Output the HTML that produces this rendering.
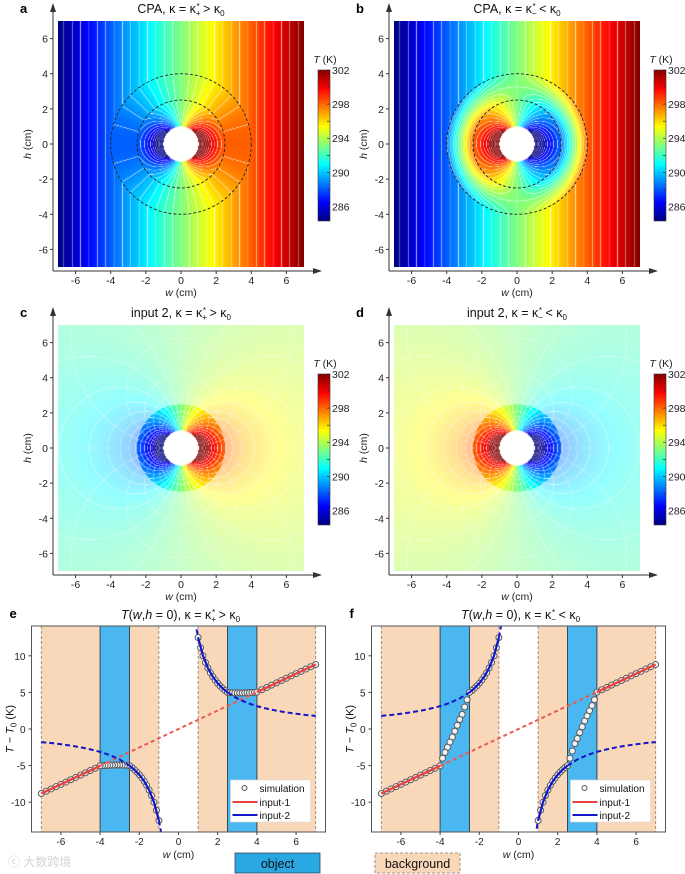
<!DOCTYPE html>
<html><head><meta charset="utf-8">
<style>
body{margin:0;width:685px;height:874px;background:#fff;position:relative;overflow:hidden;font-family:"Liberation Sans",Arial,sans-serif}
canvas{position:absolute}
#s{position:absolute;left:0;top:0}
</style></head>
<body>
<canvas id="cv-a" width="246" height="246" style="left:58px;top:21px"></canvas>
<canvas id="cv-b" width="246" height="246" style="left:394px;top:21px"></canvas>
<canvas id="cv-c" width="246" height="246" style="left:58px;top:325px"></canvas>
<canvas id="cv-d" width="246" height="246" style="left:394px;top:325px"></canvas>
<svg id="s" width="685" height="874" viewBox="0 0 685 874">
  <defs>
    <linearGradient id="jet" x1="0" y1="1" x2="0" y2="0">
      <stop offset="0" stop-color="#00007f"/><stop offset="0.125" stop-color="#0000ff"/>
      <stop offset="0.375" stop-color="#00ffff"/><stop offset="0.625" stop-color="#ffff00"/>
      <stop offset="0.875" stop-color="#ff0000"/><stop offset="1" stop-color="#7f0000"/>
    </linearGradient>
  </defs>
</svg>
<script>
// ---------- data ----------
const axisTicks = [-6, -4, -2, 0, 2, 4, 6];
const colorbarTicks = [302, 298, 294, 290, 286];
const T0 = 293.15;
const Tspan = 8.85;
const gradK = 1.26;        // K/cm background gradient
const dipoleA = 12.5;      // dipole strength (K*cm)
const shellT = 5.0;        // plateau temperature offset
const holeR = 1, shellInner = 2.5, shellOuter = 4;
const simW = [1,1.125,1.25,1.375,1.5,1.625,1.75,1.875,2,2.125,2.25,2.375,2.5,2.625,2.75,2.875,3,3.125,3.25,3.375,3.5,3.625,3.75,3.875,4,4.25,4.5,4.75,5,5.25,5.5,5.75,6,6.25,6.5,6.75,7];
const simE = [12.5,11.1,10.0,9.09,8.33,7.69,7.14,6.67,6.25,5.88,5.56,5.26,5.0,4.96,4.95,4.93,4.92,4.92,4.92,4.93,4.95,4.97,4.98,5.0,5.04,5.36,5.67,5.99,6.3,6.62,6.93,7.25,7.56,7.88,8.19,8.51,8.82];
const simF = [-12.5,-11.1,-10.0,-9.09,-8.33,-7.69,-7.14,-6.67,-6.25,-5.88,-5.56,-5.26,-5.0,-4.0,-3.0,-2.0,-1.3,-0.5,0.3,1.1,1.8,2.5,3.2,4.0,5.04,5.36,5.67,5.99,6.3,6.62,6.93,7.25,7.56,7.88,8.19,8.51,8.82];
const input1W = [0, 4, 7];
const input1T = [0, 5.04, 8.82];
const input2W = [0.85,1,1.25,1.5,1.75,2,2.25,2.5,3,3.5,4,4.5,5,5.5,6,6.5,7];
const input2T = [14.7,12.5,10,8.33,7.14,6.25,5.56,5,4.17,3.57,3.125,2.78,2.5,2.27,2.08,1.92,1.79];
const lineTicksX = [-6, -4, -2, 0, 2, 4, 6];
const lineTicksY = [-10, -5, 0, 5, 10];
const regionsBg = [[-7,-4],[-2.5,-1],[1,2.5],[4,7]];
const regionsObj = [[-4,-2.5],[2.5,4]];

// ---------- helpers ----------
const NS = 'http://www.w3.org/2000/svg';
const svg = document.getElementById('s');
function el(parent, tag, attrs, text) {
  const e = document.createElementNS(NS, tag);
  for (const k in attrs) e.setAttribute(k, attrs[k]);
  if (text !== undefined) e.textContent = text;
  parent.appendChild(e);
  return e;
}
function jet(t) {
  t = Math.max(0, Math.min(1, t));
  const c = v => Math.max(0, Math.min(1, v));
  return [c(1.5 - Math.abs(4*t - 3)), c(1.5 - Math.abs(4*t - 2)), c(1.5 - Math.abs(4*t - 1))];
}

// ---------- field models ----------
function field(p, w, h) {
  const r = Math.hypot(w, h);
  if (r < holeR) return null;
  const c = w / r;
  if (p === 'a') {
    if (r >= shellOuter) return gradK * w;
    if (r >= shellInner) return shellT * c;
    return dipoleA * c / r;
  }
  if (p === 'b') {
    if (r >= shellOuter) return gradK * w;
    if (r >= shellInner) return c * (-shellT + 2 * shellT * (r - shellInner) / (shellOuter - shellInner));
    return -dipoleA * c / r;
  }
  if (p === 'c') return dipoleA * c / r;
  return -dipoleA * c / r;
}

function renderMap(p) {
  const cv = document.getElementById('cv-' + p);
  const N = 246, S = 123 / 7;
  const ctx = cv.getContext('2d');
  const img = ctx.createImageData(N, N);
  const T = new Float64Array(N * N), P = new Float64Array(N * N), ok = new Uint8Array(N * N);
  for (let j = 0; j < N; j++) for (let i = 0; i < N; i++) {
    const w = (i + 0.5 - 123) / S, h = (123 - j - 0.5) / S;
    const v = field(p, w, h);
    const k = j * N + i;
    if (v === null) continue;
    ok[k] = 1; T[k] = v;
    const r2 = w * w + h * h;
    P[k] = dipoleA * h / r2;
  }
  const step = 0.6, pstep = 1.0;
  function lineAlpha(arr, k, i, j, st) {
    const il = i > 0 && ok[k-1] ? k-1 : k, ir = i < N-1 && ok[k+1] ? k+1 : k;
    const ju = j > 0 && ok[k-N] ? k-N : k, jd = j < N-1 && ok[k+N] ? k+N : k;
    const gx = (arr[ir] - arr[il]) / Math.max(1, (ir - il)), gy = (arr[jd] - arr[ju]) / Math.max(1, (jd - ju) / N);
    const g = Math.hypot(gx, gy) / st + 1e-9;
    const f = arr[k] / st;
    const d = Math.abs(f - Math.round(f)) / g;
    if (d >= 0.6) return 0;
    return (1 - d / 0.6) * Math.min(1, 0.45 / g);
  }
  for (let j = 0; j < N; j++) for (let i = 0; i < N; i++) {
    const k = j * N + i;
    const o = k * 4;
    if (!ok[k]) { img.data[o+3] = 0; continue; }
    const w = (i + 0.5 - 123) / S, h = (123 - j - 0.5) / S;
    const r = Math.hypot(w, h);
    let col = jet((T[k] + Tspan) / (2 * Tspan));
    const outer = (p === 'c' || p === 'd') && r > shellInner;
    if (outer) col = col.map(v => v * 0.42 + 0.58);
    let a = lineAlpha(T, k, i, j, step) * (outer ? 0.6 : 0.85);
    if (p === 'c' || p === 'd') a = Math.max(a, lineAlpha(P, k, i, j, pstep) * 0.5);
    col = col.map(v => v * (1 - a) + a);
    img.data[o] = col[0] * 255; img.data[o+1] = col[1] * 255; img.data[o+2] = col[2] * 255; img.data[o+3] = 255;
  }
  ctx.putImageData(img, 0, 0);
}
['a','b','c','d'].forEach(renderMap);

// ---------- title helper ----------
function kappaTitle(g, x, y, prefix, sub, rel, italicT) {
  const t = el(g, 'text', {x: x, y: y, 'text-anchor': 'middle', 'font-size': 12.5, fill: '#111'});
  if (italicT) {
    el(t, 'tspan', {'font-style': 'italic'}, 'T');
    el(t, 'tspan', {}, '(');
    el(t, 'tspan', {'font-style': 'italic'}, 'w');
    el(t, 'tspan', {}, ',');
    el(t, 'tspan', {'font-style': 'italic'}, 'h');
    el(t, 'tspan', {}, ' = 0), κ = κ');
  } else {
    el(t, 'tspan', {}, prefix + ', κ = κ');
  }
  el(t, 'tspan', {'font-size': 8, dy: 3}, sub);
  el(t, 'tspan', {'font-size': 8, dy: -7, dx: -4}, '*');
  el(t, 'tspan', {dy: 4}, ' ' + rel + ' κ');
  el(t, 'tspan', {'font-size': 8, dy: 3}, '0');
  return t;
}

// ---------- map panels ----------
function drawMap(p, cx, cy, prefix, sub, rel, circles) {
  const S = 123 / 7;
  const g = el(svg, 'g', {});
  
  
  const L = cx - 128, B = cy + 127;
  const ya = el(g, 'line', {x1: L, y1: B, x2: L, y2: cy - 134, stroke: '#333', 'stroke-width': 1});
  
  
  const yarr = el(g, 'polygon', {points: `${L-3},${cy-132} ${L+3},${cy-132} ${L},${cy-141}`, fill: '#333'});
  
  
  const xa = el(g, 'line', {x1: L, y1: B, x2: cx + 134, y2: B, stroke: '#333', 'stroke-width': 1});
  
  
  const xarr = el(g, 'polygon', {points: `${cx+132},${B-3} ${cx+132},${B+3} ${cx+141},${B}`, fill: '#333'});
  
  
  axisTicks.forEach(t => {
    const x = cx + t * S;
    const tk = el(g, 'line', {x1: x, y1: B, x2: x, y2: B + 3, stroke: '#333'});
    
    
    const tl = el(g, 'text', {x: x, y: B + 13, 'text-anchor': 'middle', 'font-size': 10.5, fill: '#222'}, String(t));
    
    
    const y = cy - t * S;
    const tk2 = el(g, 'line', {x1: L - 3, y1: y, x2: L, y2: y, stroke: '#333'});
    
    
    const tl2 = el(g, 'text', {x: L - 5, y: y + 4, 'text-anchor': 'end', 'font-size': 10.5, fill: '#222'}, String(t));
    
    
  });
  const xt = el(g, 'text', {x: cx, y: B + 25, 'text-anchor': 'middle', 'font-size': 10.5, fill: '#222'});
  el(xt, 'tspan', {'font-style': 'italic'}, 'w');
  el(xt, 'tspan', {}, ' (cm)');
  
  
  const yt = el(g, 'text', {x: 0, y: 0, 'text-anchor': 'middle', 'font-size': 10.5, fill: '#222', transform: `translate(${cx-150},${cy}) rotate(-90)`});
  el(yt, 'tspan', {'font-style': 'italic'}, 'h');
  el(yt, 'tspan', {}, ' (cm)');
  
  
  const lt = el(g, 'text', {x: cx - 161, y: cy - 131, 'font-size': 13, 'font-weight': 'bold', fill: '#000'}, p);
  
  
  const tt = kappaTitle(g, cx, cy - 131, prefix, sub, rel, false);
  
  
  if (circles) {
    [shellInner, shellOuter].forEach(rr => {
      const c = el(g, 'circle', {cx: cx, cy: cy, r: rr * S, fill: 'none', stroke: '#222', 'stroke-width': 0.9, 'stroke-dasharray': '3,2'});
      
      
    });
  }
  // colorbar
  const cbX = cx + 137, cbTop = cy - 74, cbH = 151, Tmax = T0 + Tspan, Tmin = T0 - Tspan;
  const cb = el(g, 'rect', {x: cbX, y: cbTop, width: 12, height: cbH, fill: 'url(#jet)', stroke: '#333', 'stroke-width': 0.6});
  
  
  for (let T = 286; T <= 302; T += 2) {
    const y = cbTop + (Tmax - T) / (Tmax - Tmin) * cbH;
    const m = el(g, 'line', {x1: cbX + 9, y1: y, x2: cbX + 12, y2: y, stroke: '#222', 'stroke-width': 0.6});
    
    
  }
  colorbarTicks.forEach(T => {
    const y = cbTop + (Tmax - T) / (Tmax - Tmin) * cbH;
    const tl = el(g, 'text', {x: cbX + 14, y: y + 4, 'font-size': 10.5, fill: '#222'}, String(T));
    
    
  });
  const ct = el(g, 'text', {x: cbX + 7, y: cbTop - 7, 'font-size': 10.5, fill: '#222', 'text-anchor': 'middle'});
  el(ct, 'tspan', {'font-style': 'italic'}, 'T');
  el(ct, 'tspan', {}, ' (K)');
  
  
}
drawMap('a', 181, 144, 'CPA', '+', '>', true);
drawMap('b', 517, 144, 'CPA', '−', '<', true);
drawMap('c', 181, 448, 'input 2', '+', '>', false);
drawMap('d', 517, 448, 'input 2', '−', '<', false);

// ---------- line panels ----------
function drawLine(p, cx, sign, simT, rel, sub) {
  const SX = 19.6, SY = 7.32, Y0 = 729;
  const X = w => cx + w * SX, Y = t => Y0 - t * SY;
  const left = cx - 147, right = cx + 147, top = 626, bot = 832;
  const g = el(svg, 'g', {});
  
  
  const cid = 'clip-' + p;
  el(el(g, 'clipPath', {id: cid}), 'rect', {x: left, y: top, width: right - left, height: bot - top});
  const plot = el(g, 'g', {'clip-path': `url(#${cid})`});
  regionsBg.forEach(r => {
    const b = el(plot, 'rect', {x: X(r[0]), y: top, width: X(r[1]) - X(r[0]), height: bot - top, fill: '#f9d7b9'});
    
    
  });
  regionsObj.forEach(r => {
    const b = el(plot, 'rect', {x: X(r[0]), y: top, width: X(r[1]) - X(r[0]), height: bot - top, fill: '#4ab7f0'});
    
    
  });
  [-7, -1, 1, 7].forEach(w => {
    const l = el(plot, 'line', {x1: X(w), y1: top, x2: X(w), y2: bot, stroke: '#8a7a70', 'stroke-width': 0.8, 'stroke-dasharray': '3,2'});
    
    
  });
  [-4, -2.5, 2.5, 4].forEach(w => {
    const l = el(plot, 'line', {x1: X(w), y1: top, x2: X(w), y2: bot, stroke: '#3a4a55', 'stroke-width': 1});
    
    
  });
  simW.forEach((w, i) => {
    [1, -1].forEach(s => {
      const c = el(plot, 'circle', {cx: X(s * w), cy: Y(s * simT[i]), r: 3, fill: '#f2f2f2', stroke: '#5a5a5a', 'stroke-width': 1});
      
      
    });
  });
  function runs(ws, ts, sgn, solidTest) {
    const pts = [];
    for (let i = ws.length - 1; i >= 0; i--) pts.push([-ws[i], -sgn * ts[i]]);
    for (let i = 0; i < ws.length; i++) if (!(ws[i] === 0 && i === 0 && pts.length && pts[pts.length-1][0] === 0)) pts.push([ws[i], sgn * ts[i]]);
    const out = [];
    let cur = null;
    for (let i = 0; i < pts.length - 1; i++) {
      const a = pts[i], b = pts[i+1];
      if (a[0] < 0 && b[0] > 0 && Math.abs(a[0]) < 1.5 && Math.abs(b[0]) < 1.5 && ws[0] !== 0) { cur = null; continue; }
      const solid = solidTest(Math.abs(a[0])) && solidTest(Math.abs(b[0]));
      if (!cur || cur.solid !== solid) { cur = {solid, pts: [a]}; out.push(cur); }
      cur.pts.push(b);
    }
    return out;
  }
  const r1 = runs(input1W, input1T, 1, w => w >= 4);
  r1.forEach(r => {
    const l = el(plot, 'polyline', {points: r.pts.map(q => X(q[0]) + ',' + Y(q[1])).join(' '), fill: 'none', stroke: r.solid ? '#e8433c' : '#ec5a52', 'stroke-width': r.solid ? 2.4 : 2, 'stroke-dasharray': r.solid ? 'none' : '4,3'});
    
    
  });
  const r2 = runs(input2W, input2T, sign, w => w >= 1 && w <= 2.5);
  r2.forEach(r => {
    const l = el(plot, 'polyline', {points: r.pts.map(q => X(q[0]) + ',' + Y(q[1])).join(' '), fill: 'none', stroke: '#1515c8', 'stroke-width': r.solid ? 2.2 : 2, 'stroke-dasharray': r.solid ? 'none' : '5,3'});
    
    
  });
  const fr = el(g, 'rect', {x: left, y: top, width: right - left, height: bot - top, fill: 'none', stroke: '#555', 'stroke-width': 1});
  
  
  lineTicksX.forEach(t => {
    const tk = el(g, 'line', {x1: X(t), y1: bot, x2: X(t), y2: bot + 3, stroke: '#444'});
    
    
    const tl = el(g, 'text', {x: X(t), y: bot + 13, 'text-anchor': 'middle', 'font-size': 10, fill: '#222'}, String(t));
    
    
  });
  lineTicksY.forEach(t => {
    const tk = el(g, 'line', {x1: left - 3, y1: Y(t), x2: left, y2: Y(t), stroke: '#444'});
    
    
    const tl = el(g, 'text', {x: left - 6, y: Y(t) + 4, 'text-anchor': 'end', 'font-size': 10, fill: '#222'}, String(t));
    
    
  });
  const xt = el(g, 'text', {x: cx, y: 858, 'text-anchor': 'middle', 'font-size': 10.5, fill: '#222'});
  el(xt, 'tspan', {'font-style': 'italic'}, 'w');
  el(xt, 'tspan', {}, ' (cm)');
  
  
  const yt = el(g, 'text', {x: 0, y: 0, 'text-anchor': 'middle', 'font-size': 11, fill: '#111', transform: `translate(${cx-165},${Y0}) rotate(-90)`});
  el(yt, 'tspan', {'font-style': 'italic'}, 'T');
  el(yt, 'tspan', {}, ' − ');
  el(yt, 'tspan', {'font-style': 'italic'}, 'T');
  el(yt, 'tspan', {'font-size': 8, dy: 3}, '0');
  el(yt, 'tspan', {dy: -3}, ' (K)');
  
  
  const lt = el(g, 'text', {x: cx - 169, y: 618, 'font-size': 13, 'font-weight': 'bold', fill: '#000'}, p);
  
  
  const tt = kappaTitle(g, cx + 2, 619, '', sub, rel, true);
  
  
  const lx = cx + 52, ly = 780;
  const lg = el(g, 'g', {});
  
  
  el(lg, 'rect', {x: lx, y: ly, width: 80, height: 42, fill: '#fff', stroke: '#ddd', 'stroke-width': 0.6});
  const e1 = el(lg, 'circle', {cx: lx + 14, cy: ly + 8, r: 2.5, fill: '#f2f2f2', stroke: '#555'});
  
  
  el(lg, 'text', {x: lx + 29, y: ly + 12, 'font-size': 10, fill: '#111'}, 'simulation');
  const e2 = el(lg, 'line', {x1: lx + 2, y1: ly + 22, x2: lx + 27, y2: ly + 22, stroke: '#e8433c', 'stroke-width': 2});
  
  
  el(lg, 'text', {x: lx + 29, y: ly + 26, 'font-size': 10, fill: '#111'}, 'input-1');
  const e3 = el(lg, 'line', {x1: lx + 2, y1: ly + 35, x2: lx + 27, y2: ly + 35, stroke: '#1515c8', 'stroke-width': 2});
  
  
  el(lg, 'text', {x: lx + 29, y: ly + 39, 'font-size': 10, fill: '#111'}, 'input-2');
}
drawLine('e', 178.5, 1, simE, '>', '+');
drawLine('f', 518.5, -1, simF, '<', '−');

// ---------- bottom keys ----------
const ob = el(svg, 'g', {});


el(ob, 'rect', {x: 235, y: 853, width: 85, height: 20, fill: '#2aa8e2', stroke: '#345', 'stroke-width': 0.8});
el(ob, 'text', {x: 277.5, y: 868, 'text-anchor': 'middle', 'font-size': 12.5, fill: '#111'}, 'object');
const bk = el(svg, 'g', {});


el(bk, 'rect', {x: 375, y: 853, width: 85, height: 20, fill: '#f9d7b9', stroke: '#8a7a70', 'stroke-width': 0.8, 'stroke-dasharray': '3,2'});
el(bk, 'text', {x: 417.5, y: 868, 'text-anchor': 'middle', 'font-size': 12.5, fill: '#111'}, 'background');
const wm = el(svg, 'text', {x: 8, y: 866, 'font-size': 12, fill: '#d4d4d4', 'font-family': '"Liberation Sans","Noto Sans CJK SC",sans-serif'}, 'ⓒ 大数跨境');


</script>
</body></html>
